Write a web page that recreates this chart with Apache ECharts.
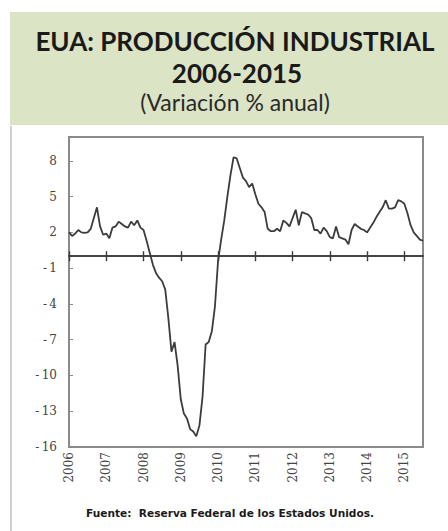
<!DOCTYPE html>
<html>
<head>
<meta charset="utf-8">
<script src="https://cdn.jsdelivr.net/npm/echarts@6/dist/echarts.min.js"></script>
<style>
html,body{margin:0;padding:0;background:#fff;}
#c{width:448px;height:531px;}
</style>
</head>
<body>
<div id="c"></div>
<script>
// Data
const years = ['2006','2007','2008','2009','2010','2011','2012','2013','2014','2015'];
const monthsPerYear = ['01','02','03','04','05','06','07','08','09','10','11','12'];
const values = [
  2.0, 1.7, 1.9, 2.2, 2.0, 1.95, 2.0, 2.3, 3.2, 4.1, 2.5, 1.8,
  1.9, 1.5, 2.4, 2.5, 2.9, 2.7, 2.5, 2.4, 2.9, 2.6, 3.0, 2.4,
  2.2, 1.3, 0.3, -0.7, -1.4, -1.8, -2.1, -2.8, -5.2, -8.0, -7.2, -9.2,
  -12.0, -13.2, -13.6, -14.5, -14.7, -15.1, -14.2, -11.8, -7.4, -7.2, -6.3, -4.2,
  -0.4, 1.4, 3.0, 5.0, 6.8, 8.3, 8.2, 7.4, 6.6, 6.3, 5.8, 6.1,
  5.2, 4.4, 4.1, 3.7, 2.3, 2.1, 2.1, 2.3, 2.1, 3.0, 2.8, 2.5,
  3.2, 3.9, 2.6, 3.7, 3.6, 3.5, 3.2, 2.2, 2.2, 1.9, 2.4, 2.1,
  1.6, 1.5, 2.5, 1.6, 1.5, 1.4, 1.0, 2.2, 2.7, 2.5, 2.3, 2.2,
  2.0, 2.4, 2.8, 3.3, 3.7, 4.1, 4.7, 4.0, 4.0, 4.1, 4.7, 4.6,
  4.4, 3.6, 2.6, 2.0, 1.7, 1.4, 1.3
];
const titleLine1 = 'EUA: PRODUCCIÓN INDUSTRIAL';
const titleLine2 = '2006-2015';
const titleLine3 = '(Variación % anual)';
const sourceText = 'Fuente:  Reserva Federal de los Estados Unidos.';

const categories = [];
years.forEach(y => monthsPerYear.forEach(m => categories.push(y + '-' + m)));
categories.length = values.length;

const chart = echarts.init(document.getElementById('c'), null, {renderer: 'svg'});
const yearStart = (i) => i % 12 === 0;
const zeroAxisBase = {
  type: 'category', data: categories, boundaryGap: false, position: 'bottom',
  axisLine: {onZero: true, onZeroAxisIndex: 0, lineStyle: {color: '#3a3a3a', width: 1.6}},
  axisLabel: {show: false}, splitLine: {show: false}
};
chart.setOption({
  animation: false,
  graphic: [
    {type: 'rect', shape: {x: 10, y: 12, width: 438, height: 113}, style: {fill: '#dce4c6'}},
    {type: 'line', shape: {x1: 11, y1: 126, x2: 11, y2: 531}, style: {stroke: '#d0d0d0', lineWidth: 2}},
    {type: 'text', style: {text: titleLine1, x: 235, y: 41, align: 'center', verticalAlign: 'middle',
      font: 'bold 26px Lato', fill: '#1a1a1a'}},
    {type: 'text', style: {text: titleLine2, x: 237, y: 73, align: 'center', verticalAlign: 'middle',
      font: 'bold 26px Lato', fill: '#1a1a1a'}},
    {type: 'text', style: {text: titleLine3, x: 235, y: 102, align: 'center', verticalAlign: 'middle',
      font: '23px Lato', fill: '#2a2a2a'}},
    {type: 'text', style: {text: sourceText, x: 230, y: 513, align: 'center', verticalAlign: 'middle',
      font: 'bold 10.6px "DejaVu Sans"', fill: '#1a1a1a'}}
  ],
  grid: {left: 69, right: 25, top: 137, bottom: 84, show: true, borderColor: '#8a8a8a', borderWidth: 2},
  xAxis: [
    {
      type: 'category', data: categories, boundaryGap: false, position: 'bottom',
      axisLine: {show: false, onZero: false}, axisTick: {show: false}, splitLine: {show: false},
      axisLabel: {interval: yearStart, rotate: 90, margin: 5, formatter: v => v.slice(0, 4),
        fontFamily: 'DejaVu Serif', fontSize: 12, color: '#444'}
    },
    Object.assign({}, zeroAxisBase, {axisTick: {interval: yearStart, inside: false, length: 5, lineStyle: {color: '#3a3a3a', width: 1.4}}}),
    Object.assign({}, zeroAxisBase, {axisTick: {interval: yearStart, inside: true, length: 5, lineStyle: {color: '#3a3a3a', width: 1.4}}})
  ],
  yAxis: {
    type: 'value', min: -16, max: 10, interval: 3,
    axisLine: {show: true, lineStyle: {color: '#8a8a8a', width: 2}},
    axisTick: {show: true, inside: true, length: 4, lineStyle: {color: '#8a8a8a'}},
    splitLine: {show: false},
    axisLabel: {showMaxLabel: false, margin: 12, fontFamily: 'DejaVu Serif', fontSize: 12, color: '#444',
      formatter: v => v < 0 ? '-\u2009' + Math.abs(v) : String(v)}
  },
  series: [{
    type: 'line', data: values, xAxisIndex: 0, showSymbol: false,
    lineStyle: {color: '#3c3c3c', width: 1.8}
  }]
});
</script>
</body>
</html>
